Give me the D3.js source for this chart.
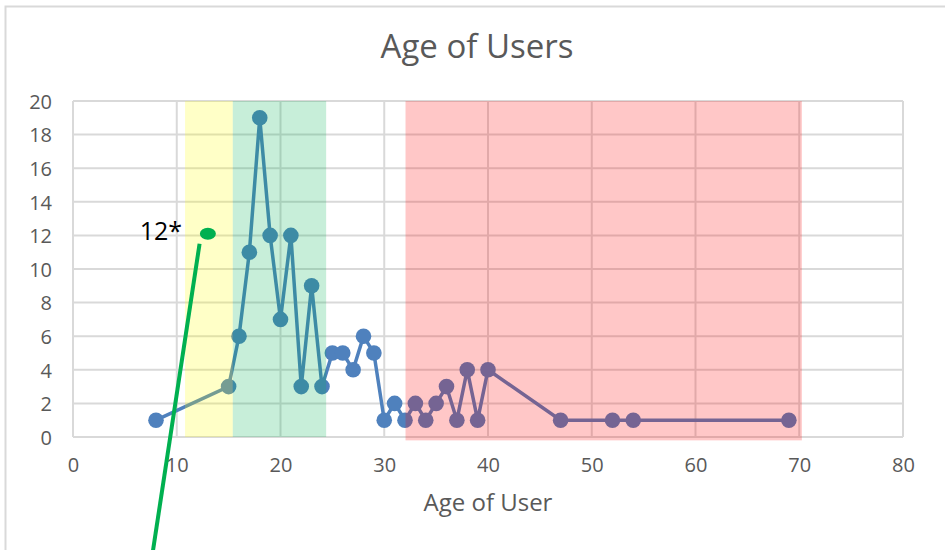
<!DOCTYPE html>
<html>
<head>
<meta charset="utf-8">
<script src="https://cdn.jsdelivr.net/npm/d3@7"></script>
<style>
    body { margin: 0; background: #fff; }
    svg text { font-family: "Open Sans", Lato, sans-serif; }
</style>
</head>
<body>
<div id="chart"></div>
<script>
// ages and number of users of each age
var ages = [8, 15, 16, 17, 18, 19, 20, 21, 22, 23, 24, 25, 26, 27, 28, 29, 30,
    31, 32, 33, 34, 35, 36, 37, 38, 39, 40, 47, 52, 54, 69];
var counts = [1, 3, 6, 11, 19, 12, 7, 12, 3, 9, 3, 5, 5, 4, 6, 5, 1,
    2, 1, 2, 1, 2, 3, 1, 4, 1, 4, 1, 1, 1, 1];

var xTicks = [0, 10, 20, 30, 40, 50, 60, 70, 80];
var yTicks = [0, 2, 4, 6, 8, 10, 12, 14, 16, 18, 20];

// highlighted age bands
var bandNames = ["yellow", "green", "red"];
var bandStart = [10.8, 15.4, 32.05];
var bandEnd = [15.4, 24.4, 70.25];

// "12*" note
var noteLabel = "12*";
var noteAge = 13;
var noteCount = 12.1;
var noteLineFrom = [12.2, 11.5];
var noteLineTo = [7.7, -6.8];

var width = 945, height = 550;
var plot_left = 73, plot_right = 903, plot_top = 101, plot_bottom = 437;

var band_fill = {
    yellow: "rgba(255,255,0,0.22)",
    green: "rgba(0,176,80,0.22)",
    red: "rgba(255,0,0,0.22)"
};
var grid_color = "#d9d9d9";
var font_color = "#595959";
var line_color = "#4f81bd";

var svg = d3.select("#chart")
    .append("svg")
    .attr("width", width)
    .attr("height", height);

// chart area border (only top and left are in the picture)
svg.append("path")
    .attr("d", "M5.5," + height + " V6.5 H" + width)
    .attr("fill", "none")
    .attr("stroke", grid_color)
    .attr("stroke-width", 2);

var x = d3.scaleLinear().domain([0, 80]).range([plot_left, plot_right]);
var y = d3.scaleLinear().domain([0, 20]).range([plot_bottom, plot_top]);

// grid
svg.append("g")
    .selectAll("line.hgrid")
    .data(yTicks)
    .enter()
    .append("line")
    .attr("class", "hgrid")
    .attr("x1", plot_left)
    .attr("x2", plot_right)
    .attr("y1", function (d) { return y(d); })
    .attr("y2", function (d) { return y(d); })
    .attr("stroke", grid_color)
    .attr("stroke-width", 2);

svg.append("g")
    .selectAll("line.vgrid")
    .data(xTicks)
    .enter()
    .append("line")
    .attr("class", "vgrid")
    .attr("x1", function (d) { return x(d); })
    .attr("x2", function (d) { return x(d); })
    .attr("y1", plot_top)
    .attr("y2", plot_bottom)
    .attr("stroke", grid_color)
    .attr("stroke-width", 2);

// axes (labels only)
var xAxis = svg.append("g")
    .attr("transform", "translate(0," + plot_bottom + ")")
    .call(d3.axisBottom(x).tickValues(xTicks).tickSize(0).tickPadding(21));
var yAxis = svg.append("g")
    .attr("transform", "translate(" + plot_left + ",0)")
    .call(d3.axisLeft(y).tickValues(yTicks).tickSize(0).tickPadding(21));

[xAxis, yAxis].forEach(function (a) {
    a.select(".domain").remove();
    a.selectAll("text")
        .style("font-family", "'Open Sans', Lato, sans-serif")
        .style("font-size", "20px")
        .attr("fill", font_color);
});
yAxis.selectAll("text").attr("dy", "0.36em");

// series
var points = ages.map(function (a, i) { return [a, counts[i]]; });

svg.append("path")
    .datum(points)
    .attr("fill", "none")
    .attr("stroke", line_color)
    .attr("stroke-width", 3.5)
    .attr("d", d3.line()
        .x(function (d) { return x(d[0]); })
        .y(function (d) { return y(d[1]); }));

svg.append("g")
    .selectAll("circle")
    .data(points)
    .enter()
    .append("circle")
    .attr("cx", function (d) { return x(d[0]); })
    .attr("cy", function (d) { return y(d[1]); })
    .attr("r", 7.8)
    .attr("fill", line_color);

// translucent bands on top of everything
svg.append("g")
    .selectAll("rect")
    .data(bandNames)
    .enter()
    .append("rect")
    .attr("x", function (d, i) { return x(bandStart[i]); })
    .attr("width", function (d, i) { return x(bandEnd[i]) - x(bandStart[i]); })
    .attr("y", plot_top)
    .attr("height", function (d) {
        return (d == "red" ? y(-0.2) : y(0)) - plot_top;
    })
    .attr("fill", function (d) { return band_fill[d]; });

// titles
svg.append("text")
    .text("Age of Users")
    .attr("x", 477)
    .attr("y", 58)
    .attr("text-anchor", "middle")
    .style("font-size", "33px")
    .attr("fill", font_color);

svg.append("text")
    .text("Age of User")
    .attr("x", (plot_left + plot_right) / 2)
    .attr("y", 511)
    .attr("text-anchor", "middle")
    .style("font-size", "24px")
    .attr("fill", font_color);

// annotation
svg.append("text")
    .text(noteLabel)
    .attr("x", 182)
    .attr("y", 240)
    .attr("text-anchor", "end")
    .style("font-size", "25px")
    .attr("fill", "#000");

svg.append("ellipse")
    .attr("cx", x(noteAge))
    .attr("cy", y(noteCount))
    .attr("rx", 8)
    .attr("ry", 6)
    .attr("fill", "#00b050");

svg.append("line")
    .attr("x1", x(noteLineFrom[0]))
    .attr("y1", y(noteLineFrom[1]))
    .attr("x2", x(noteLineTo[0]))
    .attr("y2", y(noteLineTo[1]))
    .attr("stroke", "#00b050")
    .attr("stroke-width", 4);
</script>
</body>
</html>
